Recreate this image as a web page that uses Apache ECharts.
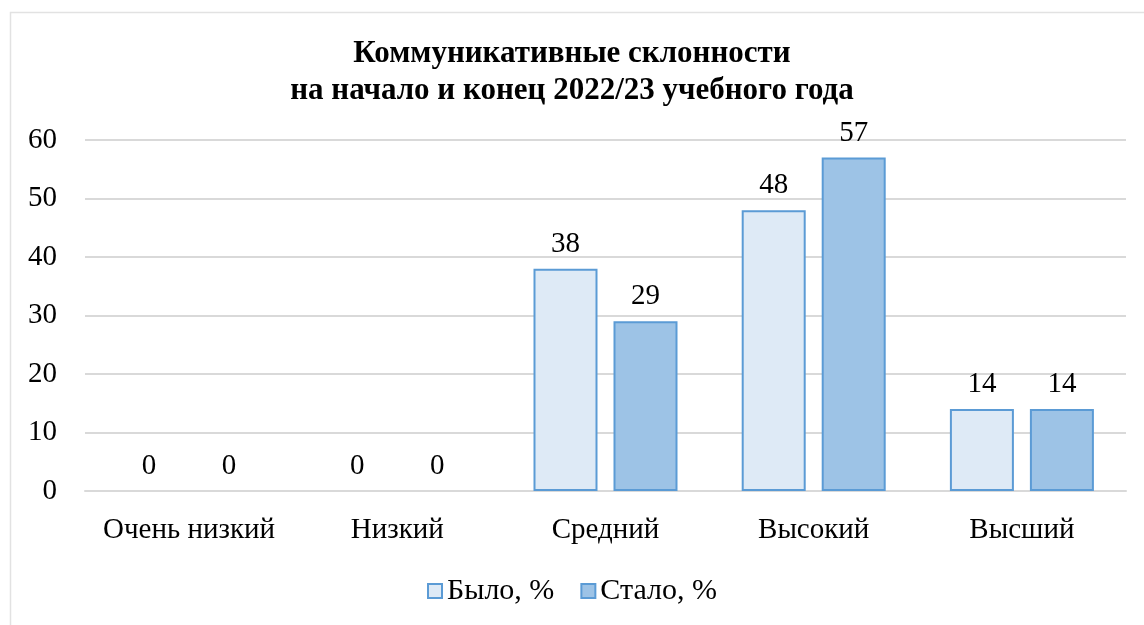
<!DOCTYPE html>
<html>
<head>
<meta charset="utf-8">
<script src="https://cdn.jsdelivr.net/npm/echarts@6/dist/echarts.min.js"></script>
<style>
  html, body { margin: 0; padding: 0; background: #fff; }
  #main { width: 1144px; height: 625px; }
</style>
</head>
<body>
<div id="main"></div>
<script>
var categories = ['Очень низкий', 'Низкий', 'Средний', 'Высокий', 'Высший'];
var wasValues = [0, 0, 38, 48, 14];
var nowValues = [0, 0, 29, 57, 14];
var seriesNames = ['Было, %', 'Стало, %'];

var font = '"Liberation Serif", "Times New Roman", serif';
var myChart = echarts.init(document.getElementById('main'));

// zero-height bars have no visible outline in the original
function barData(values) {
    return values.map(function (v) {
        return v === 0 ? { value: v, itemStyle: { borderWidth: 0, opacity: 0 } } : v;
    });
}

var labelStyle = {
    show: true, position: 'top', distance: 10,
    fontFamily: font, fontSize: 29, color: '#000', opacity: 1
};

var option = {
    backgroundColor: '#fff',
    textStyle: { fontFamily: font },
    graphic: [{
        type: 'rect',
        left: 8, top: 10,
        shape: { width: 1160, height: 640 },
        style: { fill: 'none', stroke: '#e2e2e2', lineWidth: 1.5 },
        silent: true
    }],
    title: {
        text: 'Коммуникативные склонности\nна начало и конец 2022/23 учебного года',
        left: 'center',
        top: 30,
        textStyle: {
            fontFamily: font,
            fontSize: 31,
            fontWeight: 'bold',
            color: '#000',
            lineHeight: 37
        }
    },
    legend: {
        bottom: 14,
        left: 'center',
        itemWidth: 14,
        itemHeight: 14,
        itemGap: 26,
        icon: 'rect',
        textStyle: { fontFamily: font, fontSize: 30, color: '#000' },
        data: seriesNames
    },
    grid: { left: 85, right: 18, top: 140, bottom: 134 },
    xAxis: {
        type: 'category',
        data: categories,
        axisLine: { lineStyle: { color: '#d9d9d9', width: 2 } },
        axisTick: { show: false },
        axisLabel: { fontFamily: font, fontSize: 29, color: '#000', margin: 25, interval: 0 }
    },
    yAxis: {
        type: 'value',
        min: 0,
        max: 60,
        interval: 10,
        axisLine: { show: false },
        axisTick: { show: false },
        splitLine: { lineStyle: { color: '#d9d9d9', width: 2 } },
        axisLabel: { fontFamily: font, fontSize: 29, color: '#000', margin: 28 }
    },
    series: [
        {
            name: seriesNames[0],
            type: 'bar',
            data: barData(wasValues),
            barWidth: 64,
            barGap: '25%',
            itemStyle: { color: '#deeaf6', borderColor: '#5b9bd5', borderWidth: 2 },
            label: labelStyle
        },
        {
            name: seriesNames[1],
            type: 'bar',
            data: barData(nowValues),
            barWidth: 64,
            barGap: '25%',
            itemStyle: { color: '#9dc3e6', borderColor: '#5b9bd5', borderWidth: 2 },
            label: labelStyle
        }
    ]
};

myChart.setOption(option);
</script>
</body>
</html>
